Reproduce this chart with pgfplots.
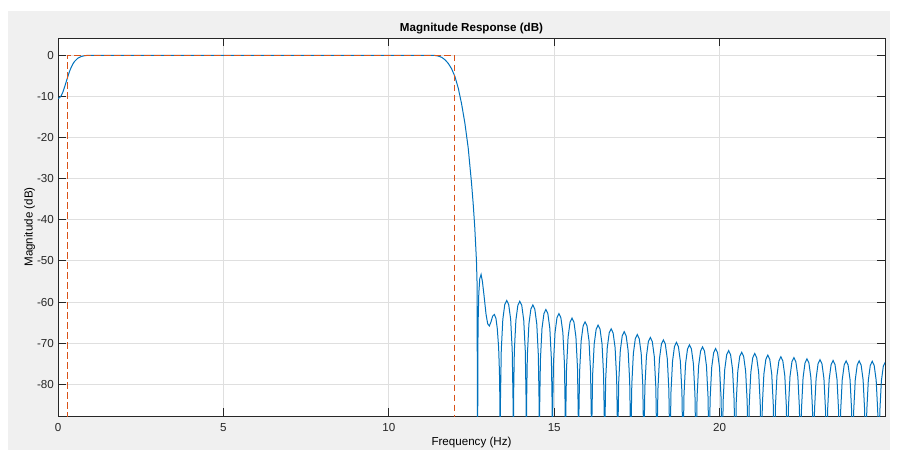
\documentclass[border=0pt]{standalone}
\usepackage{fontspec}
\setmainfont{Liberation Sans}
\usepackage{pgfplots}
\pgfplotsset{compat=1.18}
\definecolor{bgray}{RGB}{240,240,240}
\definecolor{mblue}{RGB}{0,114,189}
\definecolor{mred}{RGB}{217,83,25}
\definecolor{axgray}{RGB}{38,38,38}
\definecolor{gridgray}{RGB}{223,223,223}
\begin{document}
\fontsize{8.7}{10.4}\selectfont
\begin{tikzpicture}
\path[use as bounding box] (0,0) rectangle (675pt,-337.5pt);
\fill[white] (0,0) rectangle (675pt,-337.5pt);
\fill[bgray] (6pt,-8.25pt) rectangle (667.5pt,-337.5pt);
\begin{axis}[
  at={(43.5pt,-28.5pt)}, anchor=north west,
  scale only axis, width=620.25pt, height=283.5pt,
  xmin=0, xmax=25, ymin=-87.7, ymax=4.2,
  xtick={0,5,10,15,20}, ytick={-80,-70,-60,-50,-40,-30,-20,-10,0},
  xticklabels={0,5,10,15,20},
  yticklabels={-80,-70,-60,-50,-40,-30,-20,-10,0},
  tick align=inside,
  major tick length=6pt,
  grid=major,
  major grid style={gridgray, line width=0.75pt},
  axis line style={axgray, line width=0.75pt},
  tick style={axgray, line width=0.75pt},
  ticklabel style={text=axgray, font=\fontsize{8.7}{10}\selectfont},
  xticklabel style={yshift=-2.25pt},
  axis background/.style={fill=white},
  title={\textbf{Magnitude Response (dB)}},
  title style={font=\fontsize{8.7}{10}\selectfont, yshift=-6pt},
  xlabel={Frequency (Hz)}, ylabel={Magnitude (dB)},
  label style={font=\fontsize{8.7}{10}\selectfont},
  xlabel style={yshift=1.5pt},
  ylabel style={yshift=-4.5pt},
  clip=true,
]
\addplot[mblue, line width=0.75pt] coordinates {
(0,-10.5) (0.05,-10.3) (0.1,-9.8) (0.15,-8.9) (0.2,-7.7) (0.25,-6.4) (0.3,-5.1) (0.35,-3.9) (0.4,-2.9) (0.45,-2.1) (0.5,-1.5) (0.6,-0.7) (0.7,-0.3) (0.8,-0.1) (0.9,-0.02) (1.0,0)
(11.3,0) (11.4,-0.05) (11.5,-0.2) (11.6,-0.5) (11.7,-1.1) (11.8,-2.0) (11.9,-3.3) (12.0,-5.2) (12.1,-8.0) (12.2,-11.8) (12.3,-16.5) (12.4,-22.5) (12.5,-31) (12.55,-36) (12.6,-42) (12.65,-50) (12.67,-56) (12.685,-120)
(12.69,-75) (12.70,-65) (12.72,-58) (12.75,-54.3) (12.79,-53.3) (12.83,-55.0) (12.88,-58.5) (12.94,-63) (12.99,-65.3) (13.04,-65.8) (13.09,-64.8) (13.14,-63.4) (13.19,-63.0) (13.24,-64.0) (13.28,-66.5) (13.32,-71) (13.345,-77) (13.36,-85)
(13.368,-120) (13.376,-83.6) (13.400,-71.7) (13.447,-64.2) (13.506,-60.6) (13.565,-59.6) (13.624,-60.6) (13.684,-64.2) (13.731,-71.7) (13.755,-83.6)
(13.763,-120) (13.771,-83.8) (13.795,-71.9) (13.842,-64.4) (13.901,-60.8) (13.960,-59.8) (14.019,-60.8) (14.079,-64.4) (14.126,-71.9) (14.150,-83.8)
(14.157,-120) (14.165,-84.7) (14.189,-72.8) (14.236,-65.3) (14.295,-61.7) (14.354,-60.7) (14.413,-61.7) (14.473,-65.3) (14.520,-72.8) (14.544,-84.7)
(14.552,-120) (14.560,-85.8) (14.584,-73.9) (14.631,-66.4) (14.690,-62.8) (14.749,-61.8) (14.808,-62.8) (14.868,-66.4) (14.915,-73.9) (14.939,-85.8)
(14.946,-120) (14.954,-86.8) (14.978,-74.9) (15.025,-67.4) (15.084,-63.8) (15.143,-62.8) (15.202,-63.8) (15.262,-67.4) (15.309,-74.9) (15.333,-86.8)
(15.341,-120) (15.349,-87.9) (15.373,-76.0) (15.420,-68.5) (15.479,-64.9) (15.538,-63.9) (15.597,-64.9) (15.657,-68.5) (15.704,-76.0) (15.728,-87.9)
(15.736,-120) (15.744,-88.8) (15.768,-76.9) (15.815,-69.4) (15.874,-65.8) (15.933,-64.8) (15.992,-65.8) (16.052,-69.4) (16.099,-76.9) (16.123,-88.8)
(16.130,-120) (16.138,-89.6) (16.162,-77.7) (16.209,-70.2) (16.268,-66.6) (16.327,-65.6) (16.386,-66.6) (16.446,-70.2) (16.493,-77.7) (16.517,-89.6)
(16.525,-120) (16.533,-90.5) (16.557,-78.6) (16.604,-71.1) (16.663,-67.5) (16.722,-66.5) (16.781,-67.5) (16.841,-71.1) (16.888,-78.6) (16.912,-90.5)
(16.919,-120) (16.927,-91.2) (16.951,-79.3) (16.998,-71.8) (17.057,-68.2) (17.116,-67.2) (17.175,-68.2) (17.235,-71.8) (17.282,-79.3) (17.306,-91.2)
(17.314,-120) (17.322,-91.9) (17.346,-80.0) (17.393,-72.5) (17.452,-68.9) (17.511,-67.9) (17.570,-68.9) (17.630,-72.5) (17.677,-80.0) (17.701,-91.9)
(17.709,-120) (17.717,-92.6) (17.741,-80.7) (17.788,-73.2) (17.847,-69.6) (17.906,-68.6) (17.965,-69.6) (18.025,-73.2) (18.072,-80.7) (18.096,-92.6)
(18.103,-120) (18.111,-93.2) (18.135,-81.3) (18.182,-73.8) (18.241,-70.2) (18.300,-69.2) (18.359,-70.2) (18.419,-73.8) (18.466,-81.3) (18.490,-93.2)
(18.498,-120) (18.506,-93.8) (18.530,-81.9) (18.577,-74.4) (18.636,-70.8) (18.695,-69.8) (18.754,-70.8) (18.814,-74.4) (18.861,-81.9) (18.885,-93.8)
(18.892,-120) (18.900,-94.4) (18.924,-82.5) (18.971,-75.0) (19.030,-71.4) (19.089,-70.4) (19.148,-71.4) (19.208,-75.0) (19.255,-82.5) (19.279,-94.4)
(19.287,-120) (19.295,-94.9) (19.319,-83.0) (19.366,-75.5) (19.425,-71.9) (19.484,-70.9) (19.543,-71.9) (19.603,-75.5) (19.650,-83.0) (19.674,-94.9)
(19.682,-120) (19.690,-95.3) (19.714,-83.4) (19.761,-75.9) (19.820,-72.3) (19.879,-71.3) (19.938,-72.3) (19.998,-75.9) (20.045,-83.4) (20.069,-95.3)
(20.076,-120) (20.084,-95.8) (20.108,-83.9) (20.155,-76.4) (20.214,-72.8) (20.273,-71.8) (20.332,-72.8) (20.392,-76.4) (20.439,-83.9) (20.463,-95.8)
(20.471,-120) (20.479,-96.2) (20.503,-84.3) (20.550,-76.8) (20.609,-73.2) (20.668,-72.2) (20.727,-73.2) (20.787,-76.8) (20.834,-84.3) (20.858,-96.2)
(20.865,-120) (20.873,-96.5) (20.897,-84.6) (20.944,-77.1) (21.003,-73.5) (21.062,-72.5) (21.121,-73.5) (21.181,-77.1) (21.228,-84.6) (21.252,-96.5)
(21.260,-120) (21.268,-96.9) (21.292,-85.0) (21.339,-77.5) (21.398,-73.9) (21.457,-72.9) (21.516,-73.9) (21.576,-77.5) (21.623,-85.0) (21.647,-96.9)
(21.655,-120) (21.663,-97.3) (21.687,-85.4) (21.734,-77.9) (21.793,-74.3) (21.852,-73.3) (21.911,-74.3) (21.971,-77.9) (22.018,-85.4) (22.042,-97.3)
(22.049,-120) (22.057,-97.5) (22.081,-85.6) (22.128,-78.1) (22.187,-74.5) (22.246,-73.5) (22.305,-74.5) (22.365,-78.1) (22.412,-85.6) (22.436,-97.5)
(22.444,-120) (22.452,-97.8) (22.476,-85.9) (22.523,-78.4) (22.582,-74.8) (22.641,-73.8) (22.700,-74.8) (22.760,-78.4) (22.807,-85.9) (22.831,-97.8)
(22.838,-120) (22.846,-98.0) (22.870,-86.1) (22.917,-78.6) (22.976,-75.0) (23.035,-74.0) (23.094,-75.0) (23.154,-78.6) (23.201,-86.1) (23.225,-98.0)
(23.233,-120) (23.241,-98.2) (23.265,-86.3) (23.312,-78.8) (23.371,-75.2) (23.430,-74.2) (23.489,-75.2) (23.549,-78.8) (23.596,-86.3) (23.620,-98.2)
(23.628,-120) (23.636,-98.3) (23.660,-86.4) (23.707,-78.9) (23.766,-75.3) (23.825,-74.3) (23.884,-75.3) (23.944,-78.9) (23.991,-86.4) (24.015,-98.3)
(24.022,-120) (24.030,-98.3) (24.054,-86.4) (24.101,-78.9) (24.160,-75.3) (24.219,-74.3) (24.278,-75.3) (24.338,-78.9) (24.385,-86.4) (24.409,-98.3)
(24.417,-120) (24.425,-98.4) (24.449,-86.5) (24.496,-79.0) (24.555,-75.4) (24.614,-74.4) (24.673,-75.4) (24.733,-79.0) (24.780,-86.5) (24.804,-98.4)
(24.811,-120) (24.819,-98.6) (24.843,-86.7) (24.890,-79.2) (24.949,-75.6) (25.008,-74.6)
};
\addplot[mred, line width=0.75pt, dash pattern=on 5pt off 2.5pt] coordinates {
(0.3,-120) (0.3,0) (12,0) (12,-120)
};
\end{axis}
\end{tikzpicture}
\end{document}
